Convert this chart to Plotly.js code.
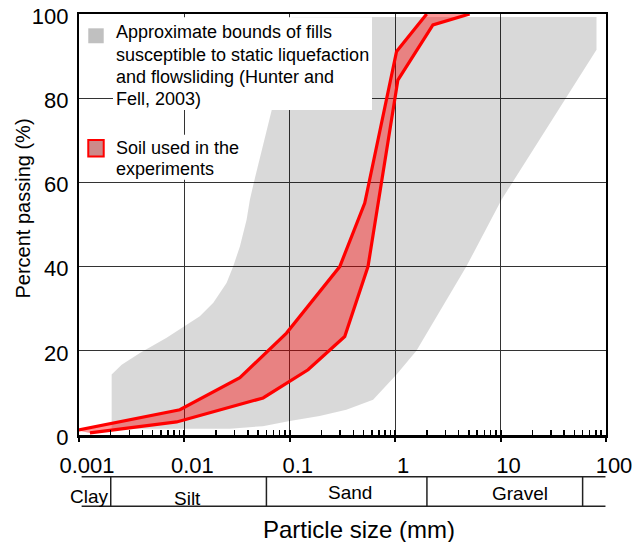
<!DOCTYPE html>
<html>
<head>
<meta charset="utf-8">
<script src="https://cdn.plot.ly/plotly-3.0.1.min.js"></script>
<style>
  html, body { margin: 0; padding: 0; background: #fff; }
  #chart { width: 637px; height: 542px; }
</style>
</head>
<body>
<div id="chart"></div>
<script>
// Grading envelope (Hunter and Fell, 2003): fine-side and coarse-side bounds
const boundFineSize = [0.00204, 0.00204, 0.00254, 0.00378, 0.00678, 0.00996, 0.0140, 0.0188, 0.0251, 0.0290, 0.0336, 0.0389, 0.0418, 0.0456, 0.054, 0.0671, 0.1045];
const boundFinePass = [1.5, 14.4, 16.7, 19.5, 23.1, 25.8, 28.2, 31.4, 36.1, 40.0, 44.8, 51.1, 55.9, 60.0, 67.7, 77.0, 99.3];
const boundCoarseSize = [0.027, 0.0555, 0.1, 0.192, 0.344, 0.617, 1.03, 1.59, 4.73, 10.2, 81.3, 81.3];
const boundCoarsePass = [1.5, 2.1, 3.3, 4.5, 6.0, 8.4, 14.4, 20.0, 40.0, 55.9, 91.5, 99.3];

// Grading limits of the soil used in the experiments
const soilFineSize = [0.00095, 0.00906, 0.0336, 0.093, 0.298, 0.514, 1.03, 1.99];
const soilFinePass = [1.1, 6.0, 13.6, 24.2, 40.0, 55.1, 91.1, 100];
const soilCoarseSize = [0.00127, 0.00844, 0.0558, 0.149, 0.332, 0.552, 1.06, 2.28, 5.08];
const soilCoarsePass = [0.5, 3.1, 8.8, 15.5, 23.4, 40.0, 84.3, 97.4, 100];

// Axis ticks
const xTickVals = [0.001, 0.01, 0.1, 1, 10, 100];
const xTickText = ['0.001', '0.01', '0.1', '1', '10', '100'];
const yTickVals = [0, 20, 40, 60, 80, 100];

// Soil classes and their size limits (mm)
const classNames = ['Clay', 'Silt', 'Sand', 'Gravel'];
const classLimits = [0.002, 0.06, 2, 60];

const FONT = 'Liberation Sans, Arial, Helvetica, sans-serif';

// closed envelope: fine bound upwards, coarse bound back down
const envX = boundFineSize.concat(boundCoarseSize.slice().reverse());
const envY = boundFinePass.concat(boundCoarsePass.slice().reverse());

const traces = [
  {
    x: envX, y: envY, type: 'scatter', mode: 'lines',
    fill: 'toself', fillcolor: 'rgba(0,0,0,0.15)',
    line: { width: 0 }, hoverinfo: 'skip', showlegend: false
  },
  {
    x: soilCoarseSize, y: soilCoarsePass, type: 'scatter', mode: 'lines',
    line: { color: '#ff0000', width: 3.2 }, showlegend: false
  },
  {
    x: soilFineSize, y: soilFinePass, type: 'scatter', mode: 'lines',
    fill: 'tonexty', fillcolor: 'rgba(255,0,0,0.4)',
    line: { color: '#ff0000', width: 3.2 }, showlegend: false
  },
  // carrier for the overlay axis that draws the outward major ticks
  { x: [], y: [], type: 'scatter', mode: 'lines', xaxis: 'x2', showlegend: false }
];

// log-axis position (0..1 across the plot) of a particle size
const fx = v => (Math.log10(v) + 3) / 5;

const bandTop = -0.099, bandBot = -0.169;
const shapes = [
  // key boxes
  { type: 'rect', xref: 'paper', yref: 'paper', x0: 0.0645, x1: 0.556, y0: 0.772, y1: 0.992,
    fillcolor: '#ffffff', line: { width: 0 }, layer: 'above' },
  { type: 'rect', xref: 'paper', yref: 'paper', x0: 0.0645, x1: 0.315, y0: 0.606, y1: 0.713,
    fillcolor: '#ffffff', line: { width: 0 }, layer: 'above' },
  { type: 'rect', xref: 'paper', yref: 'paper', x0: 0.0176, x1: 0.0469, y0: 0.9305, y1: 0.966,
    fillcolor: '#c0c0c0', line: { width: 0 }, layer: 'above' },
  { type: 'rect', xref: 'paper', yref: 'paper', x0: 0.0176, x1: 0.0469, y0: 0.6615, y1: 0.701,
    fillcolor: '#cc8a8a', line: { color: '#ff0000', width: 2 }, layer: 'above' },
  // soil class strip
  { type: 'line', xref: 'paper', yref: 'paper', x0: 0.005, x1: 0.999, y0: bandTop, y1: bandTop,
    line: { color: '#222', width: 1.5 } },
  { type: 'line', xref: 'paper', yref: 'paper', x0: 0.005, x1: 0.999, y0: bandBot, y1: bandBot,
    line: { color: '#222', width: 1.5 } }
];
classLimits.forEach(v => {
  shapes.push({ type: 'line', xref: 'paper', yref: 'paper', x0: fx(v), x1: fx(v), y0: bandTop, y1: bandBot,
    line: { color: '#222', width: 1.5 } });
});

const keyLines = [
  ['Approximate bounds of fills', 0.958],
  ['susceptible to static liquefaction', 0.9018],
  ['and flowsliding (Hunter and', 0.8505],
  ['Fell, 2003)', 0.799],
  ['Soil used in the', 0.6828],
  ['experiments', 0.633]
];
const annotations = keyLines.map(([t, y]) => ({
  text: t, xref: 'paper', yref: 'paper', x: 0.0655, y: y,
  xanchor: 'left', yanchor: 'middle', showarrow: false,
  font: { family: FONT, size: 18, color: '#000' }
}));

const classLabelPos = [[0.019, -0.1459], [0.2059, -0.1499], [0.5142, -0.136], [0.8359, -0.14]];
classNames.forEach((name, i) => {
  annotations.push({
    text: name, xref: 'paper', yref: 'paper', x: classLabelPos[i][0], y: classLabelPos[i][1],
    xanchor: 'center', yanchor: 'middle', showarrow: false,
    font: { family: FONT, size: 19, color: '#000' }
  });
});

// axis titles
annotations.push({
  text: 'Particle size (mm)', xref: 'paper', yref: 'paper', x: 0.531, y: -0.225,
  xanchor: 'center', yanchor: 'middle', showarrow: false,
  font: { family: FONT, size: 24, color: '#000' }
});
annotations.push({
  text: 'Percent passing (%)', xref: 'paper', yref: 'paper', x: -0.107, y: 0.537,
  xanchor: 'center', yanchor: 'middle', showarrow: false, textangle: -90,
  font: { family: FONT, size: 20, color: '#000' }
});

const layout = {
  width: 637, height: 542,
  margin: { l: 79, r: 31, t: 14, b: 107 },
  paper_bgcolor: '#ffffff', plot_bgcolor: '#ffffff',
  showlegend: false, hovermode: false,
  font: { family: FONT, color: '#000' },
  xaxis: {
    type: 'log', range: [-3, 2],
    tickmode: 'array', tickvals: xTickVals, ticktext: xTickText,
    ticks: 'inside', ticklen: 5, tickwidth: 2, tickcolor: '#000',
    ticklabelshift: 8, ticklabelstandoff: 9, ticklabeloverflow: 'allow',
    tickfont: { family: FONT, size: 22, color: '#000' },
    showgrid: true, gridcolor: '#333', gridwidth: 1.3,
    showline: true, linecolor: '#000', linewidth: 2.5, mirror: true,
    zeroline: false,
    minor: { dtick: 'D1', ticks: 'inside', ticklen: 5, tickwidth: 1.5, tickcolor: '#000', showgrid: false }
  },
  xaxis2: {
    type: 'log', range: [-3, 2], overlaying: 'x', anchor: 'y', side: 'bottom',
    tickmode: 'array', tickvals: xTickVals,
    ticks: 'outside', ticklen: 6, tickwidth: 2, tickcolor: '#000',
    showticklabels: false, showgrid: false, showline: false, zeroline: false
  },
  yaxis: {
    range: [0, 100],
    tickmode: 'array', tickvals: yTickVals,
    ticks: '', ticklabelshift: 2, ticklabelstandoff: 4, ticklabeloverflow: 'allow',
    tickfont: { family: FONT, size: 22, color: '#000' },
    showgrid: true, gridcolor: '#333', gridwidth: 1.3,
    showline: true, linecolor: '#000', linewidth: 2.2, mirror: true,
    zeroline: false
  },
  shapes: shapes,
  annotations: annotations
};

Plotly.newPlot('chart', traces, layout, { displayModeBar: false, staticPlot: true });
</script>
</body>
</html>
